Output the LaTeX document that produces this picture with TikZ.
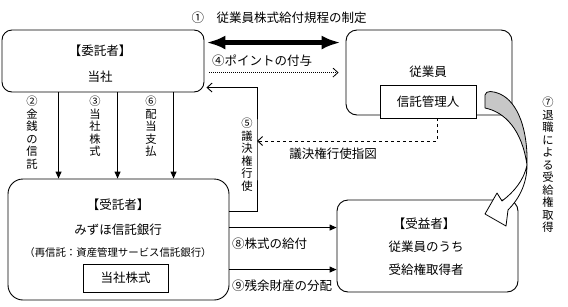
\documentclass[tikz,border=0pt]{standalone}
\usepackage{fontspec}
\setmainfont{Noto Sans CJK JP}
\usepackage{tikz}
\usetikzlibrary{arrows.meta,positioning,calc}

\begin{document}
\begin{tikzpicture}[
  x=1pt, y=-1pt,
  >={Triangle[length=7pt,width=6pt]},
  party/.style={draw, line width=0.9pt, rounded corners=11pt, fill=white, inner sep=0pt},
  holder/.style={draw, line width=0.9pt, fill=white, inner sep=0pt},
  flow/.style={line width=0.9pt},
  openhead/.style={-{Straight Barb[length=5pt,width=9pt]}},
  jptext/.style={font=\fontsize{12.5}{14}\selectfont, inner sep=0pt},
  subtext/.style={font=\fontsize{10.4}{12}\selectfont, inner sep=0pt},
  vlabel/.style={align=center, font=\fontsize{11.3}{12.5}\selectfont, inner sep=0pt},
  ribbon/.style={draw, line width=0.8pt, line join=round}
]
\useasboundingbox (0,0) rectangle (568,306);

% parties
\node[party, rounded corners=10pt, minimum width=202pt, minimum height=62pt] (itaku) at (103,61) {};
\node[jptext] (itakuhead) at (100,51) {【委託者】};
\node[jptext] (itakuname) at (100,77) {当社};

\node[party, minimum width=166pt, minimum height=85pt] (jugyoin) at (429,72.5) {};
\node[jptext] (jugyoinname) at (428,72) {従業員};

\node[party, rounded corners=15pt, minimum width=221pt, minimum height=121pt] (jutaku) at (118.5,239.5) {};
\node[jptext] (jutakuhead) at (118,205) {【受託者】};
\node[jptext] (jutakuname) at (118,230) {みずほ信託銀行};
\node[subtext] (saishintaku) at (118,253) {（再信託：資産管理サービス信託銀行）};
\node[holder, minimum width=85pt, minimum height=28pt, jptext] (kabu) at (125.5,278) {当社株式};

\node[party, minimum width=181pt, minimum height=92pt] (jueki) at (427.5,246) {};
\node[jptext] (juekihead) at (424,224) {【受益者】};
\node[jptext] (juekiname) at (426,247) {従業員のうち};
\node[jptext] (juekiname2) at (426,270) {受給権取得者};

% (1) regulation
\node[jptext] (kitei) at (279,18) {①\hspace{1em}従業員株式給付規程の制定};
\draw[line width=4.5pt, {Latex[length=19pt,width=14pt]}-{Latex[length=19pt,width=14pt]}, shorten <=2pt, shorten >=5pt]
  ([yshift=-13pt]itaku.north east) -- ([yshift=-13pt]jugyoin.north west);

% (4) points
\node[jptext, anchor=west] (point) at (212,61) {④ポイントの付与};
\draw[line width=0.8pt, dash pattern=on 1pt off 1pt, openhead, shorten <=5pt, shorten >=7pt]
  ([yshift=-43pt]itaku.north east) -- ([yshift=-43pt]jugyoin.north west);

% (2) (3) (6)
\draw[flow, ->] ([xshift=57pt]itaku.south west) -- ([xshift=51pt]jutaku.north west);
\draw[flow, ->] ([xshift=116pt]itaku.south west) -- ([xshift=110pt]jutaku.north west);
\draw[flow, ->] ([xshift=172pt]itaku.south west) -- ([xshift=166pt]jutaku.north west);
\node[vlabel, anchor=north] (kinsen) at (32,96) {②\\金\\銭\\の\\信\\託};
\node[vlabel, anchor=north] (kabushiki) at (95,96) {③\\当\\社\\株\\式};
\node[vlabel, anchor=north] (haito) at (151,96) {⑥\\配\\当\\支\\払};

% (5) voting
\coordinate (vote) at (257,150);
\draw[flow, openhead, shorten >=2pt] ([yshift=-33pt]jutaku.north east) -| (vote) |- ([yshift=-58pt]itaku.north east);
\node[vlabel, anchor=north] (giketsu) at (247,118) {⑤\\議\\決\\権\\行\\使};

% trust manager
\node[holder, minimum width=96pt, minimum height=33pt, jptext] (kanri) at (428,101.5) {信託管理人};
\draw[flow, dashed, openhead] ([xshift=9pt]kanri.south) |- (vote |- 0,141);
\node[jptext] (shizu) at (333,154) {議決権行使指図};

% (8) (9)
\draw[flow, ->] ([yshift=-49pt]jutaku.north east) -- ([yshift=-28pt]jueki.north west);
\draw[flow, ->] ([yshift=-91pt]jutaku.north east) -- ([yshift=-70pt]jueki.north west);
\node[jptext, anchor=west] (kyufu) at (232,244) {⑧株式の給付};
\node[jptext, anchor=west] (zanyo) at (232,286) {⑨残余財産の分配};

% (7) retirement
\draw[ribbon, fill=black!22] (485,95) -- (485,108) .. controls (505,112) and (522,130) .. (527,165)
  .. controls (528,130) and (518,102) .. (500,94) .. controls (493,91) and (486,90) .. cycle;
\draw[ribbon, fill=white] (527,165) .. controls (527,185) and (518,200) .. (508,210)
  -- (506,226) -- (485,214) -- (497,193) -- (502,201) .. controls (514,192) and (524,180) .. cycle;
\node[vlabel, anchor=north] (taishoku) at (548,97) {⑦\\退\\職\\に\\よ\\る\\受\\給\\権\\取\\得};
\end{tikzpicture}
\end{document}
